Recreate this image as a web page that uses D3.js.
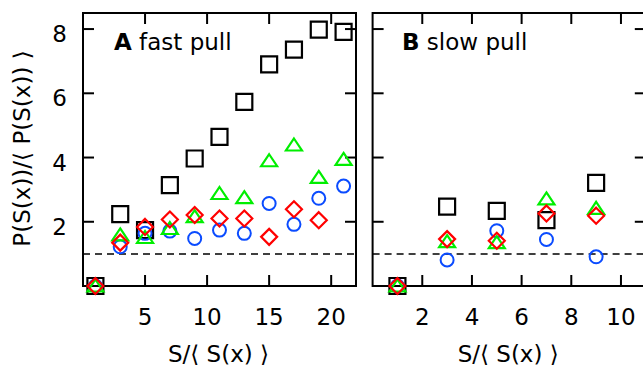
<!DOCTYPE html>
<html><head><meta charset="utf-8">
<script src="https://cdn.jsdelivr.net/npm/d3@7"></script>
<style>
html,body{margin:0;padding:0;background:#fff;}
text{font-family:"DejaVu Sans",sans-serif;}
</style></head>
<body>
<svg id="chart" width="643" height="369"></svg>
<script>
// ---- data ----
const xA = [1, 3, 5, 7, 9, 11, 13, 15, 17, 19, 21];
const squaresA   = [0, 2.24, 1.74, 3.14, 3.97, 4.64, 5.73, 6.90, 7.36, 7.98, 7.91];
const circlesA   = [0, 1.22, 1.64, 1.71, 1.48, 1.74, 1.64, 2.57, 1.92, 2.73, 3.11];
const trianglesA = [0, 1.59, 1.51, 1.79, 2.16, 2.88, 2.75, 3.90, 4.39, 3.38, 3.94];
const diamondsA  = [0, 1.35, 1.84, 2.07, 2.21, 2.10, 2.10, 1.53, 2.39, 2.05];

const xB = [1, 3, 5, 7, 9];
const squaresB   = [0, 2.47, 2.34, 2.05, 3.21];
const circlesB   = [0, 0.81, 1.72, 1.45, 0.91];
const trianglesB = [0, 1.38, 1.35, 2.71, 2.42];
const diamondsB  = [0, 1.46, 1.41, 2.26, 2.19];

const yTicks = [2, 4, 6, 8];
const xTicksA = [5, 10, 15, 20];
const xTicksB = [2, 4, 6, 8, 10];
const refLine = 1;
const labelA = ["A", " fast pull"];
const labelB = ["B", " slow pull"];
const xTitle = "S/\u27E8 S(x) \u27E9";
const yTitle = "P(S(x))/\u27E8 P(S(x)) \u27E9";

// ---- layout ----
const svg = d3.select("#chart");
const pTop = 13, pBottom = 286;
const FS = 23;
const y = d3.scaleLinear().domain([0, 8.5]).range([pBottom, pTop]);

const colors = {sq: "#000000", ci: "#0a4bff", tr: "#00ee00", di: "#ff0000"};

function shapePath(kind) {
  if (kind === "sq") return "M-8,-8H8V8H-8Z";
  if (kind === "tr") return "M0,-6.5L8,5.5L-8,5.5Z";
  if (kind === "di") return "M0,-8L8,0L0,8L-8,0Z";
  return null;
}

function panel(opts) {
  const x = d3.scaleLinear().domain(opts.xdom).range([opts.left, opts.right]);
  const g = svg.append("g");
  const tl = 11;
  g.append("line").attr("x1", opts.left).attr("x2", opts.right)
    .attr("y1", y(refLine)).attr("y2", y(refLine))
    .attr("stroke", "#000").attr("stroke-width", 1.5).attr("stroke-dasharray", "7,5");
  opts.xticks.forEach(t => {
    g.append("line").attr("x1", x(t)).attr("x2", x(t)).attr("y1", pBottom).attr("y2", pBottom - tl)
      .attr("stroke", "#000").attr("stroke-width", 2);
    g.append("line").attr("x1", x(t)).attr("x2", x(t)).attr("y1", pTop).attr("y2", pTop + tl)
      .attr("stroke", "#000").attr("stroke-width", 2);
    g.append("text").attr("x", x(t)).attr("y", 325).attr("text-anchor", "middle")
      .attr("font-size", FS).text(t);
  });
  yTicks.forEach(t => {
    g.append("line").attr("x1", opts.left).attr("x2", opts.left + tl).attr("y1", y(t)).attr("y2", y(t))
      .attr("stroke", "#000").attr("stroke-width", 2);
    g.append("line").attr("x1", opts.right).attr("x2", opts.right - tl).attr("y1", y(t)).attr("y2", y(t))
      .attr("stroke", "#000").attr("stroke-width", 2);
    if (opts.ylabels) {
      g.append("text").attr("x", opts.left - 16).attr("y", y(t) + 13).attr("text-anchor", "end")
        .attr("font-size", FS).text(t);
    }
  });
  g.append("rect").attr("x", opts.left).attr("y", pTop)
    .attr("width", opts.right - opts.left).attr("height", pBottom - pTop)
    .attr("fill", "none").attr("stroke", "#000").attr("stroke-width", 2);
  opts.series.forEach(s => {
    const pts = s.vals.map((v, i) => ({x: opts.xs[i], y: v}));
    const sel = g.append("g").selectAll("*").data(pts);
    if (s.kind === "ci") {
      sel.enter().append("circle").attr("cx", d => x(d.x)).attr("cy", d => y(d.y)).attr("r", 6.5)
        .attr("fill", "none").attr("stroke", colors.ci).attr("stroke-width", 2);
    } else {
      sel.enter().append("path").attr("d", shapePath(s.kind))
        .attr("transform", d => `translate(${x(d.x)},${y(d.y)})`)
        .attr("fill", "none").attr("stroke", colors[s.kind]).attr("stroke-width", 2.2);
    }
  });
  const lab = g.append("text").attr("x", opts.labelX).attr("y", 50).attr("font-size", FS);
  lab.append("tspan").attr("font-weight", "bold").text(opts.label[0]);
  lab.append("tspan").text(opts.label[1]);
  g.append("text").attr("x", (opts.left + opts.right) / 2 - 1).attr("y", 362)
    .attr("text-anchor", "middle").attr("font-size", FS).text(xTitle);
}

panel({left: 83, right: 356, xdom: [0, 22], xticks: xTicksA, xs: xA, ylabels: true,
  label: labelA, labelX: 114,
  series: [{kind: "sq", vals: squaresA}, {kind: "ci", vals: circlesA},
           {kind: "tr", vals: trianglesA}, {kind: "di", vals: diamondsA}]});
panel({left: 372.6, right: 645.8, xdom: [0, 11], xticks: xTicksB, xs: xB, ylabels: false,
  label: labelB, labelX: 402,
  series: [{kind: "sq", vals: squaresB}, {kind: "ci", vals: circlesB},
           {kind: "tr", vals: trianglesB}, {kind: "di", vals: diamondsB}]});

svg.append("text").attr("transform", `translate(30,148.5) rotate(-90)`)
  .attr("text-anchor", "middle").attr("font-size", FS).text(yTitle);
</script>
</body></html>
